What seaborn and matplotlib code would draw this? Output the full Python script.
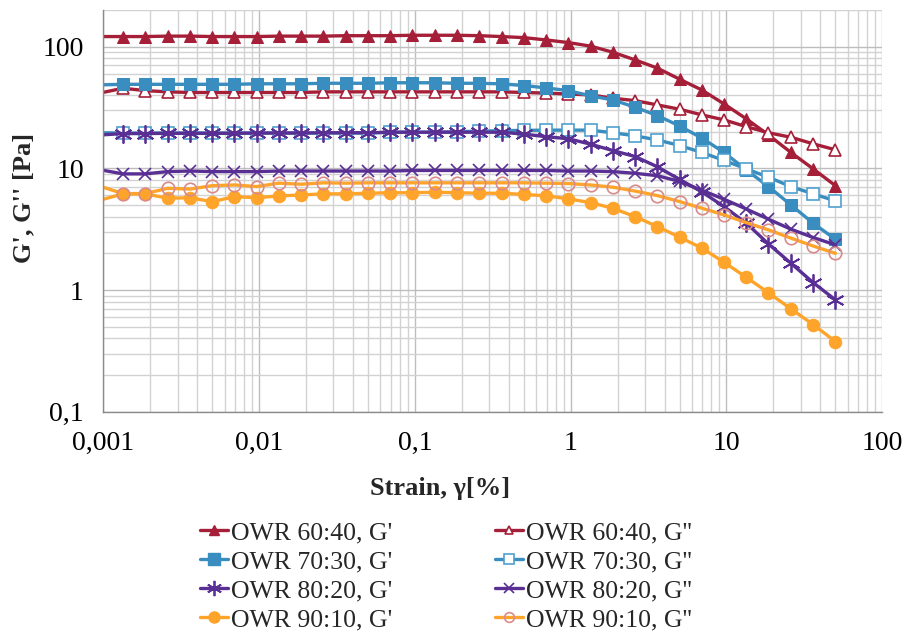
import matplotlib
matplotlib.use("Agg")
import matplotlib.pyplot as plt
from matplotlib.lines import Line2D
from matplotlib.ticker import FixedLocator, FixedFormatter, NullFormatter
import numpy as np
import pandas as pd
import seaborn as sns

# ---------------- data ----------------
strain = [0.000965, 0.00134, 0.00186, 0.00259, 0.0036, 0.005, 0.00695, 0.00965,
          0.0134, 0.0186, 0.0259, 0.036, 0.05, 0.0695, 0.0965, 0.134, 0.186, 0.259,
          0.36, 0.5, 0.695, 0.965, 1.34, 1.86, 2.59, 3.6, 5.0, 6.95, 9.65, 13.4,
          18.6, 25.9, 36.0, 50.0]

g1_6040 = [121, 121, 121, 122, 122, 121, 121, 121, 122, 122, 122, 123, 123, 123, 124, 124, 124,
           123, 121, 118.6, 113.5, 108, 101, 90, 77.8, 66.6, 54, 44, 33.8, 25.5, 18.8, 13.5, 9.9, 7.2]
g2_6040 = [41.7, 45.5, 43.5, 42.5, 42, 42, 42, 42, 42, 42, 42.5, 42.5, 42.5, 42.5, 42.5, 42.5, 42.5,
           42.5, 42.5, 42, 41.5, 40.8, 40.1, 37.7, 36, 33.2, 30.6, 27.5, 25, 22, 19.6, 18, 15.9, 14.2]
g1_7030 = [48.5, 49, 49, 49, 49, 49, 49, 49.5, 49.5, 49.5, 50, 50, 50, 50.5, 50.5, 50.5, 50,
           50, 49.4, 47.9, 45.8, 43.5, 39.4, 36.5, 31.8, 27.1, 22.3, 17.7, 13.5, 9.7, 7.08, 5.0, 3.54, 2.61]
g2_7030 = [19.6, 19.5, 19.5, 19.5, 19.5, 19.5, 19.5, 19.5, 19.5, 19.5, 19.5, 19.5, 19.5, 19.8, 19.8, 19.8, 20,
           20.2, 20.4, 20.5, 20.6, 20.6, 20.6, 19.6, 18.5, 17.1, 15.4, 13.5, 11.6, 9.9, 8.45, 7.08, 6.17, 5.4]
g1_8020 = [18.8, 19.3, 19.3, 19.4, 19.4, 19.4, 19.4, 19.5, 19.5, 19.5, 19.6, 19.6, 19.6, 19.8, 19.8, 19.8, 19.8,
           19.8, 19.8, 19.1, 18.2, 17.5, 15.8, 14.0, 12.5, 10.3, 8.1, 6.4, 4.84, 3.54, 2.39, 1.66, 1.15, 0.83]
g2_8020 = [9.7, 9.0, 9.0, 9.4, 9.5, 9.4, 9.4, 9.4, 9.5, 9.5, 9.5, 9.5, 9.5, 9.5, 9.6, 9.6, 9.6,
           9.6, 9.6, 9.6, 9.6, 9.5, 9.5, 9.4, 9.1, 8.7, 7.8, 6.6, 5.57, 4.63, 3.82, 3.16, 2.70, 2.35]
g1_9010 = [5.5, 6.17, 6.17, 5.68, 5.73, 5.32, 5.85, 5.73, 5.93, 6.04, 6.17, 6.17, 6.24, 6.3, 6.3, 6.36, 6.3,
           6.24, 6.24, 6.1, 5.95, 5.61, 5.23, 4.70, 4.01, 3.32, 2.72, 2.21, 1.69, 1.27, 0.95, 0.70, 0.52, 0.377]
g2_9010 = [7.08, 6.2, 6.2, 6.85, 6.75, 7.2, 7.3, 7.08, 7.55, 7.4, 7.6, 7.55, 7.6, 7.6, 7.6, 7.6, 7.6,
           7.6, 7.6, 7.6, 7.55, 7.5, 7.3, 7.0, 6.5, 5.97, 5.33, 4.70, 4.14, 3.58, 3.12, 2.67, 2.30, 2.0]

labels = ["OWR 60:40, G'", "OWR 60:40, G''", "OWR 70:30, G'", "OWR 70:30, G''",
          "OWR 80:20, G'", "OWR 80:20, G''", "OWR 90:10, G'", "OWR 90:10, G''"]
values = [g1_6040, g2_6040, g1_7030, g2_7030, g1_8020, g2_8020, g1_9010, g2_9010]

x_ticks = [0.001, 0.01, 0.1, 1, 10, 100]
x_ticklabels = ["0,001", "0,01", "0,1", "1", "10", "100"]
y_ticks = [0.1, 1, 10, 100]
y_ticklabels = ["0,1", "1", "10", "100"]

# ---------------- style ----------------
RED = "#A51F38"
BLUE = "#3A8DBF"
BLUE_L = "#4F9FCF"
PURPLE = "#5A2F93"
ORANGE = "#FFA42A"
PINK = "#D98A8A"
ASTER = (6, 2, 0)

styles = [
    dict(color=RED, marker="^", markersize=9, markerfacecolor=RED, markeredgecolor=RED),
    dict(color=RED, marker="^", markersize=9, markerfacecolor="white", markeredgecolor=RED, markeredgewidth=1.2),
    dict(color=BLUE, marker="s", markersize=9, markerfacecolor=BLUE, markeredgecolor=BLUE),
    dict(color=BLUE, marker="s", markersize=9, markerfacecolor="white", markeredgecolor=BLUE_L, markeredgewidth=1.2),
    dict(color=PURPLE, marker=ASTER, markersize=13, markeredgecolor=PURPLE, markeredgewidth=1.3),
    dict(color=PURPLE, marker="x", markersize=9, markeredgecolor=PURPLE, markeredgewidth=1.2),
    dict(color=ORANGE, marker="o", markersize=9, markerfacecolor=ORANGE, markeredgecolor=ORANGE),
    dict(color=ORANGE, marker="o", markersize=9, markerfacecolor="none", markeredgecolor=PINK, markeredgewidth=1.2),
]
# smaller markers in the legend, as in the reference
legend_ms = [7, 6, 8, 7, 11, 7, 8, 7]

sns.set_theme(style="white")
plt.rcParams["font.family"] = ["Liberation Serif", "DejaVu Serif"]

fig = plt.figure(figsize=(9.04, 6.31), dpi=100)
L, R, T, B = 103.3, 882.3, 10.0, 411.7
ax = fig.add_axes([L / 904, 1 - B / 631, (R - L) / 904, (B - T) / 631])

LW = 2.4
handles = []
for lab, vals, st, lms in zip(labels, values, styles, legend_ms):
    df = pd.DataFrame({"strain": strain, "G": vals})
    sns.lineplot(data=df, x="strain", y="G", ax=ax, estimator=None, sort=False,
                 legend=False, linewidth=LW, markevery=list(range(1, len(strain))), **st)
    hst = dict(st)
    hst["markersize"] = lms
    handles.append(Line2D([], [], linewidth=LW, **hst))

ax.set_xscale("log")
ax.set_yscale("log")
ax.set_xlim(0.001, 100)
ax.set_ylim(0.1, 200)

ax.xaxis.set_major_locator(FixedLocator(x_ticks))
ax.xaxis.set_major_formatter(FixedFormatter(x_ticklabels))
ax.yaxis.set_major_locator(FixedLocator(y_ticks))
ax.yaxis.set_major_formatter(FixedFormatter(y_ticklabels))
xminor = [m * 10.0 ** e for e in range(-3, 2) for m in range(2, 10)]
yminor = [m * 10.0 ** e for e in range(-1, 3) for m in range(2, 10)]
ax.xaxis.set_minor_locator(FixedLocator(xminor))
ax.yaxis.set_minor_locator(FixedLocator(yminor))
ax.xaxis.set_minor_formatter(NullFormatter())
ax.yaxis.set_minor_formatter(NullFormatter())

ax.grid(True, which="major", color="#BDBDBD", linewidth=1.0)
ax.grid(True, which="minor", color="#D2D2D2", linewidth=1.0)
ax.set_axisbelow(True)

for s in ["top", "right"]:
    ax.spines[s].set_visible(False)
for s in ["left", "bottom"]:
    ax.spines[s].set_color("#8A8A8A")
    ax.spines[s].set_linewidth(1.0)

ax.tick_params(axis="both", which="major", direction="out", length=6, width=1.0,
               color="#8A8A8A", labelsize=20, labelcolor="black", pad=8)
ax.tick_params(axis="both", which="minor", length=0)
ax.set_xlabel("")
ax.set_ylabel("")

fig.text(440 / 904, 1 - 488 / 631, "Strain, γ[%]", ha="center", va="center",
         fontsize=19, fontweight="bold")
fig.text(24 / 904, 1 - 198 / 631, "G', G'' [Pa]", ha="center", va="center",
         fontsize=19, fontweight="bold", rotation=90)

order = [0, 2, 4, 6, 1, 3, 5, 7]
fig.legend([handles[i] for i in order], [labels[i] for i in order], ncol=2,
           loc="upper left", bbox_to_anchor=(200 / 904, 1 - 521 / 631),
           frameon=False, fontsize=18.5, handlelength=1.1, handletextpad=0.1,
           columnspacing=4.0, labelspacing=0.24, borderpad=0, borderaxespad=0)

fig.savefig("out.png", dpi=100)
